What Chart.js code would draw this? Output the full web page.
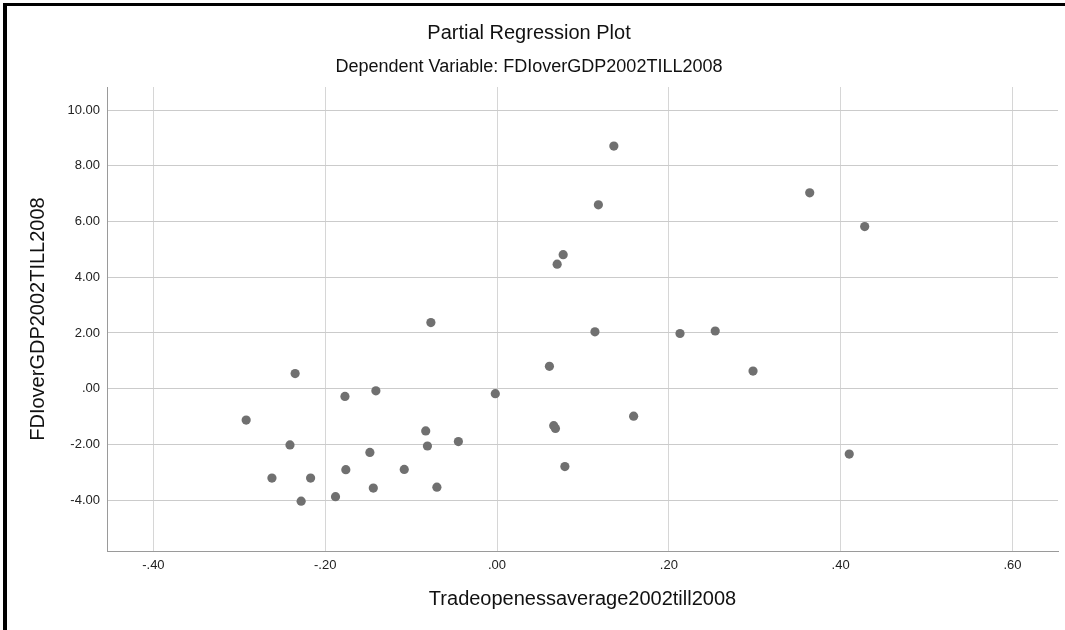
<!DOCTYPE html>
<html lang="en">
<head>
  <meta charset="UTF-8">
  <title>Partial Regression Plot</title>
  <script src="https://cdn.jsdelivr.net/npm/chart.js"></script>
  <style>
    html, body { margin: 0; padding: 0; background: #fff; }
    #wrap { width: 1065px; height: 630px; }
  </style>
</head>
<body>
  <div id="wrap"><canvas id="partialPlot" width="1065" height="630"></canvas></div>

  <script>
    // residuals of trade openness (x) and FDI/GDP (y), one entry per country
    const tradeOpeness = [
      0.136, 0.364, 0.118, 0.428, 0.077, 0.070, 0.114, 0.213, 0.254, -0.077,
      0.061, 0.298, -0.002, 0.159, 0.066, 0.068, 0.410, 0.079,
      -0.235, -0.177, -0.141, -0.292, -0.083, -0.241, -0.081, -0.045, -0.148,
      -0.262, -0.217, -0.176, -0.108, -0.144, -0.070, -0.228, -0.188
    ];
    const fdiOverGdp = [
      8.71, 7.03, 6.60, 5.82, 4.81, 4.47, 2.04, 1.98, 2.07, 2.37,
      0.80, 0.63, -0.18, -0.99, -1.33, -1.43, -2.35, -2.80,
      0.54, -0.28, -0.08, -1.13, -1.52, -2.02, -2.06, -1.90, -2.29,
      -3.21, -3.21, -2.91, -2.90, -3.57, -3.54, -4.04, -3.88
    ];

    const xTicks = [-0.4, -0.2, 0, 0.2, 0.4, 0.6];
    const xTickLabels = ['-.40', '-.20', '.00', '.20', '.40', '.60'];
    const yTicks = [-4, -2, 0, 2, 4, 6, 8, 10];
    const yTickLabels = ['-4.00', '-2.00', '.00', '2.00', '4.00', '6.00', '8.00', '10.00'];

    const points = tradeOpeness.map((x, i) => ({ x: x, y: fdiOverGdp[i] }));

    Chart.defaults.font.family = "'Liberation Sans', Arial, sans-serif";
    Chart.defaults.color = '#222';

    // white page with the black frame along the left and top edges
    const framePlugin = {
      id: 'frame',
      beforeDraw(chart) {
        const ctx = chart.ctx;
        ctx.save();
        ctx.fillStyle = '#fff';
        ctx.fillRect(0, 0, chart.width, chart.height);
        ctx.restore();
      },
      afterDraw(chart) {
        const ctx = chart.ctx;
        ctx.save();
        ctx.fillStyle = '#000';
        ctx.fillRect(3, 3, 4, chart.height - 3);
        ctx.fillRect(3, 3, chart.width - 3, 3);
        ctx.restore();
      }
    };

    const ctx = document.getElementById('partialPlot').getContext('2d');
    new Chart(ctx, {
      type: 'scatter',
      data: {
        datasets: [{
          data: points,
          backgroundColor: '#707070',
          borderWidth: 0,
          pointRadius: 4.6,
          pointHoverRadius: 4.6
        }]
      },
      plugins: [framePlugin],
      options: {
        responsive: false,
        animation: false,
        layout: { padding: { left: 0, right: 7, top: 0, bottom: 0 } },
        plugins: {
          legend: { display: false },
          tooltip: { enabled: false },
          title: {
            display: true,
            text: 'Partial Regression Plot',
            color: '#111',
            font: { size: 20, weight: 'normal', lineHeight: 34 / 20 },
            padding: { top: 16, bottom: 0 }
          },
          subtitle: {
            display: true,
            text: 'Dependent Variable: FDIoverGDP2002TILL2008',
            color: '#111',
            font: { size: 18, weight: 'normal', lineHeight: 34 / 18 },
            padding: { top: 0, bottom: 3 }
          }
        },
        scales: {
          x: {
            type: 'linear',
            min: -0.454,
            max: 0.653,
            afterBuildTicks: (scale) => { scale.ticks = xTicks.map(v => ({ value: v })); },
            afterFit: (scale) => { scale.height = 79; },
            ticks: {
              padding: 7,
              font: { size: 13 },
              callback: (value) => xTickLabels[xTicks.indexOf(value)]
            },
            grid: { color: '#d6d6d6', lineWidth: 1, drawTicks: false },
            border: { color: '#9a9a9a', width: 1 },
            title: {
              display: true,
              text: 'Tradeopenessaverage2002till2008',
              color: '#111',
              font: { size: 20, weight: 'normal', lineHeight: 1.2 },
              padding: { top: 0, bottom: 19 }
            }
          },
          y: {
            type: 'linear',
            min: -5.83,
            max: 10.83,
            afterBuildTicks: (scale) => { scale.ticks = yTicks.map(v => ({ value: v })); },
            afterFit: (scale) => { scale.width = 107; },
            ticks: {
              padding: 7,
              font: { size: 13 },
              callback: (value) => yTickLabels[yTicks.indexOf(value)]
            },
            grid: { color: '#cbcbcb', lineWidth: 1, drawTicks: false },
            border: { color: '#9a9a9a', width: 1 },
            title: {
              display: true,
              text: 'FDIoverGDP2002TILL2008',
              color: '#111',
              font: { size: 20, weight: 'normal', lineHeight: 1.2 },
              padding: { top: 26, bottom: 0 }
            }
          }
        }
      }
    });
  </script>
</body>
</html>
